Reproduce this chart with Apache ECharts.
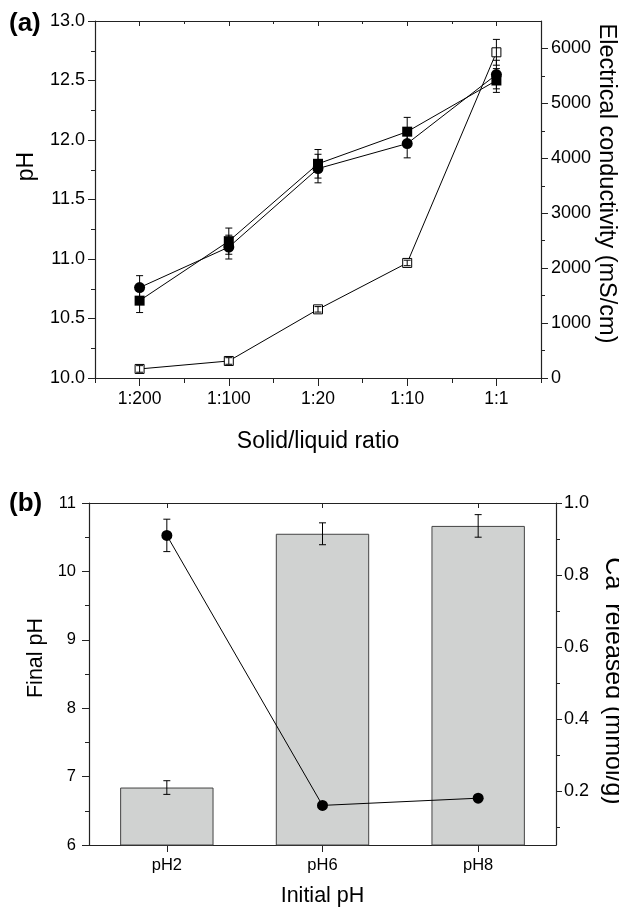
<!DOCTYPE html>
<html>
<head>
<meta charset="utf-8">
<script src="https://cdn.jsdelivr.net/npm/echarts@6/dist/echarts.min.js"></script>
<style>html,body{margin:0;padding:0;background:#fff;}#c{width:619px;height:910px;}</style>
</head>
<body>
<div id="c"></div>
<script>
// ---- Panel (a) data ----
const ratios = ['1:200', '1:100', '1:20', '1:10', '1:1'];
const phSquare = [10.65, 11.15, 11.80, 12.07, 12.50];
const phSquareErr = [0.10, 0.11, 0.12, 0.12, 0.10];
const phCircle = [10.76, 11.10, 11.76, 11.97, 12.55];
const phCircleErr = [0.10, 0.10, 0.12, 0.12, 0.12];
const ecOpen = [165, 310, 1250, 2095, 5930];
const ecOpenErr = [60, 60, 50, 50, 235];
const phTicks = [10.0, 10.5, 11.0, 11.5, 12.0, 12.5, 13.0];
const ecTicks = [0, 1000, 2000, 3000, 4000, 5000, 6000];
const ecMinorTicks = [500, 1500, 2500, 3500, 4500, 5500];

// ---- Panel (b) data ----
const initialPH = ['pH2', 'pH6', 'pH8'];
const finalPH = [6.84, 10.55, 10.665];
const finalPHErr = [0.10, 0.16, 0.165];
const caReleased = [0.91, 0.16, 0.18];
const caErr = [0.045, 0, 0];
const caTicks = [0.2, 0.4, 0.6, 0.8, 1.0];
const caMinorTicks = [0.1, 0.3, 0.5, 0.7, 0.9];

const FONT = 'Liberation Sans, Arial, sans-serif';
const AX = '#222';

function errData(cats, vals, errs) {
  return cats.map((c, i) => [i, vals[i] - errs[i], vals[i] + errs[i]]);
}
function errRender(capHalf) {
  return function (params, api) {
    const x = api.value(0);
    const lo = api.coord([x, api.value(1)]);
    const hi = api.coord([x, api.value(2)]);
    if (Math.abs(lo[1] - hi[1]) < 0.5) return null;
    const st = { stroke: '#000', lineWidth: 1 };
    return {
      type: 'group',
      children: [
        { type: 'line', shape: { x1: lo[0], y1: lo[1], x2: hi[0], y2: hi[1] }, style: st },
        { type: 'line', shape: { x1: lo[0] - capHalf, y1: lo[1], x2: lo[0] + capHalf, y2: lo[1] }, style: st },
        { type: 'line', shape: { x1: hi[0] - capHalf, y1: hi[1], x2: hi[0] + capHalf, y2: hi[1] }, style: st }
      ]
    };
  };
}

const chart = echarts.init(document.getElementById('c'), null, { renderer: 'canvas' });

const axLine = { show: true, lineStyle: { color: AX, width: 1.2 } };

const option = {
  animation: false,
  backgroundColor: '#fff',
  textStyle: { fontFamily: FONT, color: '#000' },
  title: [
    { text: '(a)', left: 9, top: 11, padding: 0, textStyle: { fontFamily: FONT, fontSize: 26, fontWeight: 'bold', color: '#000' } },
    { text: '(b)', left: 9, top: 491, padding: 0, textStyle: { fontFamily: FONT, fontSize: 26, fontWeight: 'bold', color: '#000' } }
  ],
  grid: [
    { left: 95, right: 78, top: 21, height: 357, containLabel: false, outerBoundsMode: 'none' },
    { left: 89, right: 63, top: 503, height: 342, containLabel: false, outerBoundsMode: 'none' }
  ],
  xAxis: [
    { // 0 bottom main
      type: 'category', gridIndex: 0, position: 'bottom', data: ratios, boundaryGap: true,
      axisLine: axLine,
      axisTick: { show: true, alignWithLabel: true, length: 8, lineStyle: { color: AX } },
      axisLabel: { fontSize: 17.5, color: '#000', margin: 12, fontFamily: FONT },
      name: 'Solid/liquid ratio', nameLocation: 'middle', nameGap: 52,
      nameTextStyle: { fontSize: 23, color: '#000', fontFamily: FONT }
    },
    { // 1 bottom boundary ticks
      type: 'category', gridIndex: 0, position: 'bottom', data: ratios, boundaryGap: true,
      axisLine: { show: false },
      axisTick: { show: true, alignWithLabel: false, length: 5, lineStyle: { color: AX } },
      axisLabel: { show: false }
    },
    { // 2 top mirror
      type: 'category', gridIndex: 0, position: 'top', data: ratios, boundaryGap: true,
      axisLine: axLine,
      axisTick: { show: true, alignWithLabel: true, inside: true, length: 5, lineStyle: { color: AX } },
      axisLabel: { show: false }
    },
    { // 3 top boundary ticks
      type: 'category', gridIndex: 0, position: 'top', data: ratios, boundaryGap: true,
      axisLine: { show: false },
      axisTick: { show: true, alignWithLabel: false, inside: true, length: 3, lineStyle: { color: AX } },
      axisLabel: { show: false }
    },
    { // 4 panel b bottom
      type: 'category', gridIndex: 1, position: 'bottom', data: initialPH, boundaryGap: true,
      axisLine: axLine,
      axisTick: { show: true, alignWithLabel: true, length: 7, lineStyle: { color: AX } },
      axisLabel: { fontSize: 16.5, color: '#000', margin: 12, fontFamily: FONT },
      name: 'Initial pH', nameLocation: 'middle', nameGap: 40,
      nameTextStyle: { fontSize: 21.5, color: '#000', fontFamily: FONT }
    },
    { // 5 panel b top
      type: 'category', gridIndex: 1, position: 'top', data: initialPH, boundaryGap: true,
      axisLine: axLine,
      axisTick: { show: true, alignWithLabel: true, inside: true, length: 5, lineStyle: { color: AX } },
      axisLabel: { show: false }
    }
  ],
  yAxis: [
    { // 0 pH
      type: 'value', gridIndex: 0, position: 'left', min: 10, max: 13, interval: 0.5,
      axisLine: axLine,
      axisTick: { show: true, length: 7, lineStyle: { color: AX } },
      minorTick: { show: true, splitNumber: 2, length: 4, lineStyle: { color: AX } },
      splitLine: { show: false },
      axisLabel: { fontSize: 18, color: '#000', margin: 10, fontFamily: FONT, formatter: v => v.toFixed(1) },
      name: 'pH', nameLocation: 'middle', nameGap: 57, nameRotate: 90,
      nameTextStyle: { fontSize: 23, color: '#000', fontFamily: FONT, padding: [0, 0, 0, 66] }
    },
    { // 1 EC
      type: 'value', gridIndex: 0, position: 'right', min: 0, max: 6500,
      axisLine: axLine,
      axisTick: { show: true, length: 7, customValues: ecTicks, lineStyle: { color: AX } },
      splitLine: { show: false },
      axisLabel: { fontSize: 18, color: '#000', margin: 10, fontFamily: FONT, customValues: ecTicks, formatter: v => String(Math.round(v)) },
      name: 'Electrical conductivity (mS/cm)', nameLocation: 'middle', nameGap: 53, nameRotate: -90,
      nameMoveOverlap: false,
      nameTextStyle: { fontSize: 23.5, color: '#000', fontFamily: FONT, padding: [0, 32, 0, 0] }
    },
    { // 2 EC minor ticks
      type: 'value', gridIndex: 0, position: 'right', min: 0, max: 6500,
      axisLine: { show: false },
      axisTick: { show: true, length: 4, customValues: ecMinorTicks, lineStyle: { color: AX } },
      splitLine: { show: false },
      axisLabel: { show: false }
    },
    { // 3 Final pH
      type: 'value', gridIndex: 1, position: 'left', min: 6, max: 11, interval: 1,
      axisLine: axLine,
      axisTick: { show: true, length: 7, lineStyle: { color: AX } },
      minorTick: { show: true, splitNumber: 2, length: 4, lineStyle: { color: AX } },
      splitLine: { show: false },
      axisLabel: { fontSize: 16.5, color: '#000', margin: 13, fontFamily: FONT },
      name: 'Final pH', nameLocation: 'middle', nameGap: 35, nameRotate: 90,
      nameTextStyle: { fontSize: 21.5, color: '#000', fontFamily: FONT, padding: [0, 0, 0, 32] }
    },
    { // 4 Ca released
      type: 'value', gridIndex: 1, position: 'right', min: 0.05, max: 1.0,
      axisLine: axLine,
      axisTick: { show: true, length: 6, customValues: caTicks, lineStyle: { color: AX } },
      splitLine: { show: false },
      axisLabel: { fontSize: 18, color: '#000', margin: 8, fontFamily: FONT, customValues: caTicks, formatter: v => v.toFixed(1) },
      name: 'Ca  released (mmol/g)', nameLocation: 'middle', nameGap: 44, nameRotate: -90,
      nameMoveOverlap: false,
      nameTextStyle: { fontSize: 25, color: '#000', fontFamily: FONT, padding: [0, 0, 0, 14] }
    },
    { // 5 Ca minor ticks
      type: 'value', gridIndex: 1, position: 'right', min: 0.05, max: 1.0,
      axisLine: { show: false },
      axisTick: { show: true, length: 4, customValues: caMinorTicks, lineStyle: { color: AX } },
      splitLine: { show: false },
      axisLabel: { show: false }
    }
  ],
  series: [
    // panel (a)
    {
      type: 'custom', name: 'errSq', xAxisIndex: 0, yAxisIndex: 0, z: 3,
      data: errData(ratios, phSquare, phSquareErr), encode: { x: 0, y: [1, 2] },
      renderItem: errRender(3.5)
    },
    {
      type: 'custom', name: 'errCi', xAxisIndex: 0, yAxisIndex: 0, z: 3,
      data: errData(ratios, phCircle, phCircleErr), encode: { x: 0, y: [1, 2] },
      renderItem: errRender(3.5)
    },
    {
      type: 'line', name: 'pH square', xAxisIndex: 0, yAxisIndex: 0, data: phSquare, z: 4,
      symbol: 'rect', symbolSize: 10,
      itemStyle: { color: '#000' }, lineStyle: { color: '#000', width: 1 }
    },
    {
      type: 'line', name: 'pH circle', xAxisIndex: 0, yAxisIndex: 0, data: phCircle, z: 4,
      symbol: 'circle', symbolSize: 11,
      itemStyle: { color: '#000' }, lineStyle: { color: '#000', width: 1 }
    },
    {
      type: 'line', name: 'EC', xAxisIndex: 0, yAxisIndex: 1, data: ecOpen, z: 4,
      symbol: 'rect', symbolSize: 9,
      itemStyle: { color: '#fff', borderColor: '#000', borderWidth: 1 }, lineStyle: { color: '#000', width: 1 }
    },
    {
      type: 'custom', name: 'errEc', xAxisIndex: 0, yAxisIndex: 1, z: 5,
      data: errData(ratios, ecOpen, ecOpenErr), encode: { x: 0, y: [1, 2] },
      renderItem: errRender(3.5)
    },
    // panel (b)
    {
      type: 'bar', name: 'Final pH', xAxisIndex: 4, yAxisIndex: 3, data: finalPH, barWidth: '60%',
      itemStyle: { color: '#d0d2d1', borderColor: '#444', borderWidth: 1 }
    },
    {
      type: 'custom', name: 'errBar', xAxisIndex: 4, yAxisIndex: 3, z: 3,
      data: errData(initialPH, finalPH, finalPHErr), encode: { x: 0, y: [1, 2] },
      renderItem: errRender(3.5)
    },
    {
      type: 'line', name: 'Ca', xAxisIndex: 4, yAxisIndex: 4, data: caReleased, z: 4,
      symbol: 'circle', symbolSize: 11,
      itemStyle: { color: '#000' }, lineStyle: { color: '#000', width: 1 }
    },
    {
      type: 'custom', name: 'errCa', xAxisIndex: 4, yAxisIndex: 4, z: 3,
      data: errData(initialPH, caReleased, caErr), encode: { x: 0, y: [1, 2] },
      renderItem: errRender(3.5)
    }
  ]
};
chart.setOption(option);
</script>
</body>
</html>
